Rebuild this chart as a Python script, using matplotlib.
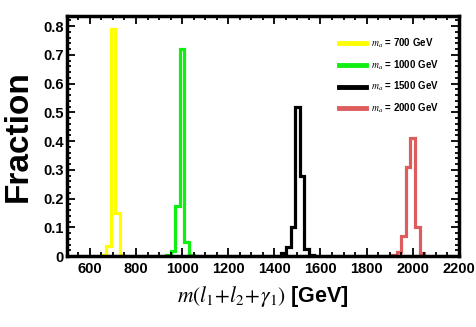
import matplotlib
matplotlib.use("Agg")
import matplotlib.pyplot as plt
import numpy as np

# --- data (bin centres in GeV, 20 GeV bins) ---
masses = [700, 1000, 1500, 2000]
colors = ["#ffff00", "#11ee11", "#000000", "#dd5c5c"]

centers_700 = [660, 680, 700, 720, 740]
frac_700 = [0.005, 0.035, 0.79, 0.15, 0.005]

centers_1000 = [940, 960, 980, 1000, 1020, 1040]
frac_1000 = [0.005, 0.018, 0.175, 0.72, 0.05, 0.004]

centers_1500 = [1440, 1460, 1480, 1500, 1520, 1540, 1560]
frac_1500 = [0.01, 0.03, 0.10, 0.52, 0.28, 0.025, 0.005]

centers_2000 = [1920, 1940, 1960, 1980, 2000, 2020, 2040]
frac_2000 = [0.003, 0.015, 0.07, 0.31, 0.41, 0.10, 0.01]

BIN = 20

plt.rcParams['font.family'] = ['Liberation Sans', 'DejaVu Sans']
plt.rcParams['mathtext.fontset'] = 'stix'
NARROW = ['Liberation Sans Narrow', 'Liberation Sans', 'DejaVu Sans']

fig = plt.figure(figsize=(4.77, 3.27), dpi=100)
ax = fig.add_axes([0.14, 0.217, 0.822, 0.734])

series = [(centers_700, frac_700), (centers_1000, frac_1000),
          (centers_1500, frac_1500), (centers_2000, frac_2000)]

for (c, f), col, m in zip(series, colors, masses):
    c = np.array(c)
    edges = np.append(c - BIN / 2, c[-1] + BIN / 2)
    ax.stairs(f, edges, baseline=0, color=col, linewidth=2.3)
    # proxy line for the legend
    ax.plot([], [], color=col, linewidth=3.5, label=rf"$m_{{a}}$ = {m} GeV")

ax.set_xlim(500, 2200)
ax.set_ylim(0, 0.835)
ax.set_xticks(np.arange(600, 2201, 200))
ax.set_xticks(np.arange(500, 2201, 50), minor=True)
ax.set_yticks(np.arange(0, 0.81, 0.1))
ax.set_yticks(np.arange(0, 0.83, 0.02), minor=True)
ax.set_yticklabels(["0"] + [f"{v:.1f}" for v in np.arange(0.1, 0.81, 0.1)])

for s in ax.spines.values():
    s.set_linewidth(2.5)
    s.set_zorder(5)

ax.tick_params(which='both', direction='in', top=True, right=True, width=1.3)
ax.tick_params(which='major', length=6)
ax.tick_params(which='minor', length=3)
ax.tick_params(axis='x', pad=4)
ax.tick_params(axis='y', pad=2)
for lab in ax.get_xticklabels() + ax.get_yticklabels():
    lab.set_fontweight('bold')
    lab.set_fontsize(10.5)
    lab.set_family(NARROW)

ax.set_ylabel("Fraction", fontsize=24, fontweight='bold')
ax.yaxis.set_label_coords(-0.085, 0.5)
ax.set_xlabel(r"$m(l_{\mathit{1}}\!+\!l_{\mathit{2}}\!+\!\gamma_{\mathit{1}})$ [GeV]",
              fontsize=15.5, fontweight='bold', labelpad=6)

ax.legend(loc='upper left', bbox_to_anchor=(0.694, 0.915), frameon=False,
          prop={'weight': 'bold', 'size': 7, 'family': NARROW}, handlelength=2.8,
          handletextpad=0.55, labelspacing=0.85, borderpad=0, borderaxespad=0)

fig.savefig("out.png", dpi=100)
